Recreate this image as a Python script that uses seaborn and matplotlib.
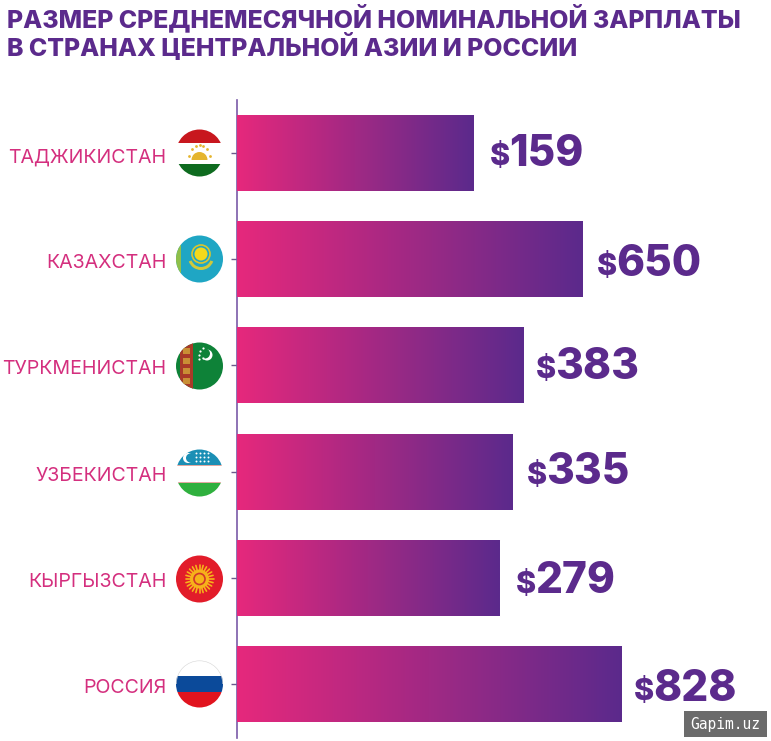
import numpy as np
import pandas as pd
import seaborn as sns
import matplotlib.pyplot as plt
from matplotlib.colors import LinearSegmentedColormap
from matplotlib.patches import Circle, Rectangle, Wedge
from matplotlib.transforms import ScaledTranslation

countries = ['ТАДЖИКИСТАН', 'КАЗАХСТАН', 'ТУРКМЕНИСТАН', 'УЗБЕКИСТАН', 'КЫРГЫЗСТАН', 'РОССИЯ']
salaries = [159, 650, 383, 335, 279, 828]
# bars in the original are not to scale, so lengths are read off separately
bar_lengths = [237, 346, 287, 276, 263, 385]
title_lines = ['РАЗМЕР СРЕДНЕМЕСЯЧНОЙ НОМИНАЛЬНОЙ ЗАРПЛАТЫ', 'В СТРАНАХ ЦЕНТРАЛЬНОЙ АЗИИ И РОССИИ']

PINK = '#E6287C'
PURPLE = '#5B2A8C'
W, H = 771, 741

sns.set_theme(style='white')
plt.rcParams['font.family'] = ['Inter', 'DejaVu Sans']

df = pd.DataFrame({'country': countries, 'length': bar_lengths})

fig = plt.figure(figsize=(W / 100, H / 100), dpi=100, facecolor='white')
ax = fig.add_axes([237 / W, 1 - 738 / H, (W - 237) / W, 638 / H])
sns.barplot(data=df, y='country', x='length', orient='h', width=0.716, color=PINK, ax=ax)
ax.set_xlim(0, W - 237)
ax.set_ylim(5.508, -0.5)
ax.set_xlabel('')
ax.set_ylabel('')
ax.set_xticks([])
sns.despine(ax=ax, left=False, top=True, right=True, bottom=True)
ax.spines['left'].set_color('#7A5AA8')
ax.spines['left'].set_linewidth(1.2)
ax.patch.set_alpha(0)
ax.tick_params(axis='y', left=True, length=4.3, width=1, color='#6B5A8C', pad=46.3)
for lab in ax.get_yticklabels():
    lab.set_color('#D42F7E')
    lab.set_fontsize(14.1)
    # labels sit 2px under the ticks in the original
    lab.set_transform(lab.get_transform() + ScaledTranslation(0, -2 / 100, fig.dpi_scale_trans))

# gradient fill, clipped to each bar
cmap = LinearSegmentedColormap.from_list('bar', [PINK, PURPLE])
ramp = np.linspace(0, 1, 256).reshape(1, -1)
for bar in ax.patches:
    x0, y0 = bar.get_x(), bar.get_y()
    im = ax.imshow(ramp, cmap=cmap, aspect='auto', zorder=3,
                   extent=[x0, x0 + bar.get_width(), y0 + bar.get_height(), y0])
    im.set_clip_path(bar)
ax.set_xlim(0, W - 237)
ax.set_ylim(5.508, -0.5)

# label placement varies a little per bar in the original (pixels)
nudge_x = [16, 14, 12, 14, 16, 12]
nudge_y = [2, -2, 1, 2, -1, -2]
for i, (val, length) in enumerate(zip(salaries, bar_lengths)):
    ax.annotate('$', (length, i), xytext=(nudge_x[i], nudge_y[i] - 6), textcoords='offset pixels',
                color=PURPLE, fontsize=22, fontweight=800, ha='left', va='center')
    ax.annotate(str(val), (length, i), xytext=(nudge_x[i] + 19, nudge_y[i] - 3), textcoords='offset pixels',
                color=PURPLE, fontsize=30.5, fontweight=800, ha='left', va='center')

# overlay in pixel coordinates for title, flags, watermark
ov = fig.add_axes([0, 0, 1, 1], zorder=5)
ov.set_xlim(0, W)
ov.set_ylim(H, 0)
ov.axis('off')
ov.patch.set_alpha(0)

for y, line in zip([18, 47], title_lines):
    ov.text(7, y, line, color=PURPLE, fontsize=17.9, fontweight=800, ha='left', va='center')


def flag_clip(cy):
    return Circle((199.5, cy), 23.5, transform=ov.transData)


def stripes(cy, bands):
    clip = flag_clip(cy)
    for top, bottom, col in bands:
        r = Rectangle((176, cy + top), 47, bottom - top, color=col, lw=0, zorder=1)
        ov.add_patch(r)
        r.set_clip_path(clip)
    return clip


def dots(xs, ys, color, size=1.5):
    ov.scatter(xs, ys, s=size, color=color, lw=0, zorder=3)


# Tajikistan
cy = 153
stripes(cy, [(-24, -10.5, '#C8171E'), (-10.5, 10.5, 'white'), (10.5, 24, '#0E6B1F')])
dots([189, 192, 196, 199.5, 203, 207, 210], [156, 149, 146, 145, 146, 149, 156], '#E5B52E', 4)
ov.add_patch(Wedge((199.5, 160), 8, 180, 360, color='#E5B52E', lw=0, zorder=3))
ov.add_patch(Rectangle((192, 157), 15, 3, color='#E5B52E', lw=0, zorder=3))

# Kazakhstan
cy = 259
clip = stripes(cy, [(-24, 24, '#1FA6C4')])
r = Rectangle((176, cy - 24), 5, 48, color='#8FBF4A', lw=0, zorder=2)
ov.add_patch(r)
r.set_clip_path(clip)
ov.add_patch(Circle((201, 254), 9, fill=False, ec='#D8C62E', lw=1.2, zorder=3))
ov.add_patch(Circle((201, 254), 6.5, color='#F4D81C', lw=0, zorder=3))
ov.add_patch(Wedge((201, 257), 13, 20, 160, width=3, color='#CFC93A', lw=0, zorder=3))

# Turkmenistan
cy = 366
clip = stripes(cy, [(-24, 24, '#0E8238')])
r = Rectangle((180, cy - 24), 13, 48, color='#A83A28', lw=0, zorder=2)
ov.add_patch(r)
r.set_clip_path(clip)
for dy in [-15, -5, 5, 15]:
    r = Rectangle((183, cy + dy - 3), 7, 6, color='#C98F35', lw=0, zorder=3)
    ov.add_patch(r)
    r.set_clip_path(clip)
ov.add_patch(Circle((207, 355), 5.5, color='white', lw=0, zorder=3))
ov.add_patch(Circle((205, 353.5), 5, color='#0E8238', lw=0, zorder=3))
dots([200, 203, 199, 203, 199], [351, 348, 355, 358, 359], 'white', 2.5)

# Uzbekistan
cy = 473
stripes(cy, [(-24, -8, '#1B8FB5'), (-8, -7, '#E3A9A0'), (-7, 9, 'white'), (9, 10, '#E3A9A0'), (10, 24, '#2FB03E')])
ov.add_patch(Circle((188, 458), 5, color='white', lw=0, zorder=3))
ov.add_patch(Circle((190.5, 458), 4.5, color='#1B8FB5', lw=0, zorder=3))
dots([196, 200, 204, 208] * 3, [453] * 4 + [457] * 4 + [461] * 4, 'white', 2)

# Kyrgyzstan
cy = 579
stripes(cy, [(-24, 24, '#E21C2A')])
for ang in np.deg2rad(np.arange(0, 360, 15)):
    ov.plot([199.5 + 9 * np.cos(ang), 199.5 + 14 * np.cos(ang)],
            [cy + 9 * np.sin(ang), cy + 14 * np.sin(ang)],
            color='#F6B21A', lw=1.2, zorder=2)
ov.add_patch(Circle((199.5, cy), 9.5, color='#F6B21A', lw=0, zorder=3))
ov.add_patch(Circle((199.5, cy), 5.5, fill=False, ec='#D2372A', lw=1.2, zorder=4))

# Russia
cy = 684
stripes(cy, [(-24, -8, 'white'), (-8, 8, '#0B4A9A'), (8, 24, '#E1131E')])
ov.add_patch(Wedge((199.5, cy), 23.5, 180, 360, width=0.6, color='#D8D8D8', lw=0, zorder=4))

# watermark
ov.add_patch(Rectangle((684, 711), 83, 26, color='#6B6B6B', lw=0, zorder=6))
ov.text(725.5, 724, 'Gapim.uz', color='white', family='DejaVu Sans Mono', fontsize=10.5,
        ha='center', va='center', zorder=7)

fig.savefig('out.png', dpi=100)
